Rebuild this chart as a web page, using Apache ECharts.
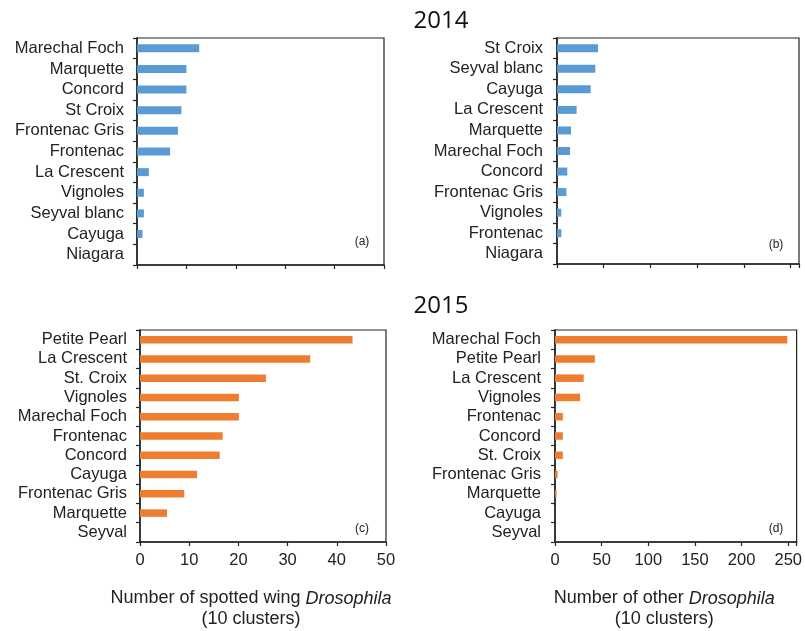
<!DOCTYPE html>
<html>
<head>
<meta charset="utf-8">
<script src="https://cdn.jsdelivr.net/npm/echarts@6/dist/echarts.min.js"></script>
<style>html,body{margin:0;padding:0;background:#fff}#chart{width:805px;height:631px}</style>
</head>
<body>
<div id="chart"></div>
<script>
// ---- data ----
const aCategories = ['Marechal Foch','Marquette','Concord','St Croix','Frontenac Gris','Frontenac','La Crescent','Vignoles','Seyval blanc','Cayuga','Niagara'];
const aValues = [12.6, 10.0, 10.0, 9.0, 8.3, 6.7, 2.4, 1.4, 1.4, 1.1, 0];

const bCategories = ['St Croix','Seyval blanc','Cayuga','La Crescent','Marquette','Marechal Foch','Concord','Frontenac Gris','Vignoles','Frontenac','Niagara'];
const bValues = [44, 41, 36, 21, 15, 14, 11, 10, 4.6, 4.6, 0];

const cCategories = ['Petite Pearl','La Crescent','St. Croix','Vignoles','Marechal Foch','Frontenac','Concord','Cayuga','Frontenac Gris','Marquette','Seyval'];
const cValues = [43.2, 34.6, 25.6, 20.1, 20.1, 16.8, 16.2, 11.6, 9.0, 5.5, 0];

const dCategories = ['Marechal Foch','Petite Pearl','La Crescent','Vignoles','Frontenac','Concord','St. Croix','Frontenac Gris','Marquette','Cayuga','Seyval'];
const dValues = [249, 42.7, 30.8, 26.9, 8.4, 8.4, 8.4, 2.8, 1.7, 0, 0];

const swdTicks = [0, 10, 20, 30, 40, 50];
const otherTicks = [0, 50, 100, 150, 200, 250];
const otherAxisMax = 259;

const titles = ['2014', '2015'];
const panelLetters = ['(a)', '(b)', '(c)', '(d)'];
const xNameC = ['Number of spotted wing ', 'Drosophila', '(10 clusters)'];
const xNameD = ['Number of other ', 'Drosophila', '(10 clusters)'];

// ---- styling ----
const FONT = "'Liberation Sans', Arial, sans-serif";
const TXT = '#222';
const BLUE = '#5B9BD5';
const ORANGE = '#ED7D31';

const grids = [
  {left: 137, top: 38, width: 247, height: 227},
  {left: 557, top: 38, width: 242, height: 226},
  {left: 140, top: 330, width: 246, height: 216},
  {left: 555, top: 330, width: 247, height: 215}
].map(g => Object.assign({show: true, borderColor: '#222', borderWidth: 1.2, backgroundColor: 'transparent', containLabel: false}, g));

function xAxis(idx, ticks, max, showLabels, nameParts, shift) {
  const step = ticks[1] - ticks[0];
  const ax = {
    type: 'value', gridIndex: idx, min: ticks[0], max: max, interval: step,
    splitLine: {show: false},
    axisLine: {show: true, lineStyle: {color: '#222', width: 1.5}},
    axisTick: {show: true, inside: false, length: 4, lineStyle: {color: '#222', width: 1.2}},
    axisLabel: {show: showLabels, fontFamily: FONT, fontSize: 16.5, color: TXT, margin: 10,
      formatter: v => (ticks.indexOf(v) >= 0 ? String(v) : '')}
  };
  if (nameParts) {
    ax.name = '{n|' + nameParts[0] + '}{i|' + nameParts[1] + '}\n{n|' + nameParts[2] + '}';
    ax.nameLocation = 'middle';
    ax.nameGap = 46;
    ax.nameTextStyle = {
      fontFamily: FONT, fontSize: 18, color: TXT, lineHeight: 21, padding: [0, shift, 0, 0],
      rich: {
        n: {fontFamily: FONT, fontSize: 18, color: TXT, lineHeight: 21},
        i: {fontFamily: FONT, fontSize: 18, color: TXT, lineHeight: 21, fontStyle: 'italic'}
      }
    };
  }
  return ax;
}

function yAxis(idx, cats, margin) {
  return {
    type: 'category', gridIndex: idx, data: cats, inverse: true,
    axisLine: {show: true, lineStyle: {color: '#222', width: 1.5}},
    axisTick: {show: true, inside: false, length: 4, lineStyle: {color: '#222', width: 1.2}},
    axisLabel: {interval: 0, fontFamily: FONT, fontSize: 16.5, color: TXT, margin: margin}
  };
}

function bar(idx, values, color, width) {
  return {type: 'bar', xAxisIndex: idx, yAxisIndex: idx, data: values, barWidth: width,
    itemStyle: {color: color}, silent: true, animation: false};
}

const letterPos = [[362, 242], [776, 245], [362, 529], [776, 529]];
const graphics = [
  {type: 'text', style: {text: titles[0], x: 441, y: 21, textAlign: 'center', textVerticalAlign: 'middle', font: "24px 'Open Sans', 'Liberation Sans', sans-serif", fill: '#111'}},
  {type: 'text', style: {text: titles[1], x: 441, y: 306, textAlign: 'center', textVerticalAlign: 'middle', font: "24px 'Open Sans', 'Liberation Sans', sans-serif", fill: '#111'}}
];
panelLetters.forEach((t, i) => graphics.push({type: 'text', style: {text: t, x: letterPos[i][0], y: letterPos[i][1], textAlign: 'center', textVerticalAlign: 'middle', font: "12px 'Liberation Sans', Arial, sans-serif", fill: TXT}}));

const chart = echarts.init(document.getElementById('chart'), null, {renderer: 'canvas'});
chart.setOption({
  animation: false,
  backgroundColor: '#fff',
  grid: grids,
  xAxis: [
    xAxis(0, swdTicks, swdTicks[swdTicks.length - 1], false),
    xAxis(1, otherTicks, otherAxisMax, false),
    xAxis(2, swdTicks, swdTicks[swdTicks.length - 1], true, xNameC, 24),
    xAxis(3, otherTicks, otherAxisMax, true, xNameD, 23)
  ],
  yAxis: [
    yAxis(0, aCategories, 13),
    yAxis(1, bCategories, 14),
    yAxis(2, cCategories, 13),
    yAxis(3, dCategories, 14)
  ],
  series: [
    bar(0, aValues, BLUE, 8),
    bar(1, bValues, BLUE, 8),
    bar(2, cValues, ORANGE, 7.5),
    bar(3, dValues, ORANGE, 7.5)
  ],
  graphic: graphics
});
</script>
</body>
</html>
